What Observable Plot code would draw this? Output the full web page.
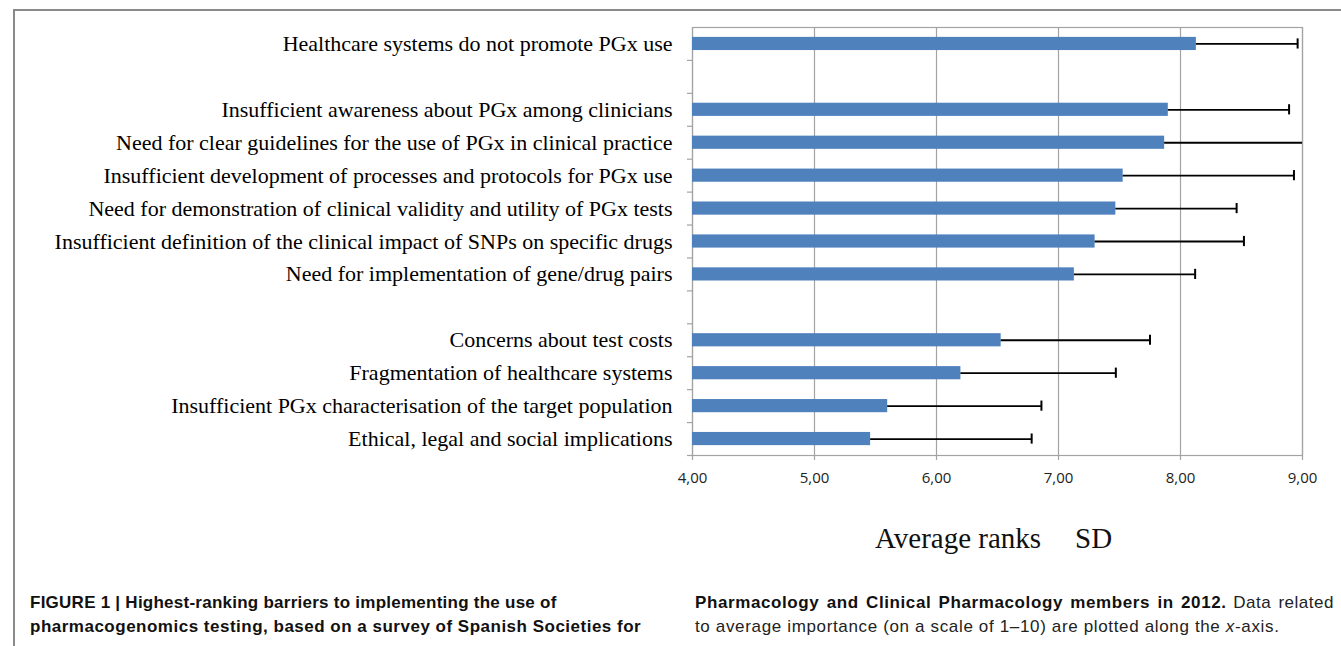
<!DOCTYPE html>
<html>
<head>
<meta charset="utf-8">
<script src="https://cdn.jsdelivr.net/npm/d3@7"></script>
<script src="https://cdn.jsdelivr.net/npm/@observablehq/plot@0.6"></script>
<style>
  html, body { margin: 0; padding: 0; background: #fff; }
  #fig { position: relative; width: 1341px; height: 646px; overflow: hidden; }
  #border { position: absolute; left: 13px; top: 9px; right: -5px; bottom: -5px;
            border-top: 2px solid #8a8a8a; border-left: 2px solid #8a8a8a; }
  #chart { position: absolute; left: 0; top: 0; }
  .leg { position: absolute; top: 522px; font-family: "Liberation Serif", "Times New Roman", serif;
         font-size: 29px; color: #111; white-space: pre; }
  .cap { position: absolute; top: 591px; font-family: "Liberation Sans", Arial, sans-serif;
         font-size: 17px; line-height: 24px; color: #111; white-space: nowrap; }
  .cap b { letter-spacing: 0.25px; }
  .cap .r { letter-spacing: 0.5px; color: #222; }
  #capL { left: 30px; }
  #capR { left: 695px; }
</style>
</head>
<body>
<div id="fig">
  <div id="border"></div>
  <div id="chart"></div>
  <div class="leg" style="left:875px">Average ranks</div>
  <div class="leg" style="left:1075px">SD</div>
  <div class="cap" id="capL"><b>FIGURE 1 | Highest-ranking barriers to implementing the use of</b><br><b style="letter-spacing:0.5px">pharmacogenomics testing, based on a survey of Spanish Societies for</b></div>
  <div class="cap" id="capR"><span style="word-spacing:2px"><b style="letter-spacing:0.6px">Pharmacology and Clinical Pharmacology members in 2012.</b> <span class="r">Data related</span></span><br><span class="r" style="letter-spacing:0.65px">to average importance (on a scale of 1–10) are plotted along the <i>x</i>-axis.</span></div>
</div>
<script>
// ---- data ----
const barriers = [
  "Healthcare systems do not promote PGx use",
  "Insufficient awareness about PGx among clinicians",
  "Need for clear guidelines for the use of PGx in clinical practice",
  "Insufficient development of processes and protocols for PGx use",
  "Need for demonstration of clinical validity and utility of PGx tests",
  "Insufficient definition of the clinical impact of SNPs on specific drugs",
  "Need for implementation of gene/drug pairs",
  "Concerns about test costs",
  "Fragmentation of healthcare systems",
  "Insufficient PGx characterisation of the target population",
  "Ethical, legal and social implications"
];
const averageRanks = [8.13, 7.90, 7.87, 7.53, 7.47, 7.30, 7.13, 6.53, 6.20, 5.60, 5.46];
const sdValues     = [0.83, 0.99, 1.25, 1.40, 0.99, 1.22, 0.99, 1.22, 1.27, 1.26, 1.32];
const gapsAfter = [0, 6];            // empty rows in the category axis
const xDomain = [4, 9];
const xTicks = [4, 5, 6, 7, 8, 9];

// ---- build ----
const data = barriers.map((b, i) => ({label: b, mean: averageRanks[i], sd: sdValues[i]}));
const yDomain = [];
barriers.forEach((b, i) => { yDomain.push(b); if (gapsAfter.includes(i)) yDomain.push("__gap" + i); });

const W = 1341, H = 470, mT = 27, mB = 15, mL = 692, mR = 39;
const step = (H - mT - mB) / yDomain.length;
const fmt = d => d3.format(".2f")(d).replace(".", ",");
const grey = "#a3a3a3";

const chart = Plot.plot({
  width: W, height: H,
  marginTop: mT, marginBottom: mB, marginLeft: mL, marginRight: mR,
  style: {background: "transparent", overflow: "visible"},
  x: {domain: xDomain, label: null},
  y: {domain: yDomain, paddingInner: 0.6, paddingOuter: 0.3, round: false, label: null},
  marks: [
    Plot.gridX(xTicks, {stroke: grey, strokeOpacity: 1, strokeWidth: 1.2}),
    Plot.frame({stroke: grey, strokeWidth: 1.2}),
    Plot.barX(data, {y: "label", x1: () => xDomain[0], x2: "mean", fill: "#4F81BD"}),
    Plot.ruleY(data, {y: "label", x1: "mean", x2: d => d.mean + d.sd, stroke: "#000", strokeWidth: 1.8, clip: true}),
    Plot.tickX(data, {y: "label", x: d => d.mean + d.sd, stroke: "#000", strokeWidth: 2, insetTop: 1.5, insetBottom: 1.5, clip: true}),
    Plot.axisX({ticks: xTicks, tickSize: 5, stroke: grey, strokeOpacity: 1, strokeWidth: 1.2, fill: "none", label: null}),
    Plot.axisX({ticks: xTicks, tickSize: 0, tickPadding: 17, tickFormat: fmt, label: null,
                fontFamily: "Open Sans, sans-serif", fontSize: 15, fill: "#222"}),
    Plot.axisY({tickSize: 5, dy: step / 2, stroke: grey, strokeOpacity: 1, strokeWidth: 1.2, fill: "none", label: null}),
    Plot.axisY({tickSize: 0, tickPadding: 20, tickFormat: d => d.startsWith("__gap") ? "" : d, label: null,
                fontFamily: "Liberation Serif, Times New Roman, serif", fontSize: 22, fill: "#000"})
  ]
});
document.getElementById("chart").appendChild(chart);
</script>
</body>
</html>
